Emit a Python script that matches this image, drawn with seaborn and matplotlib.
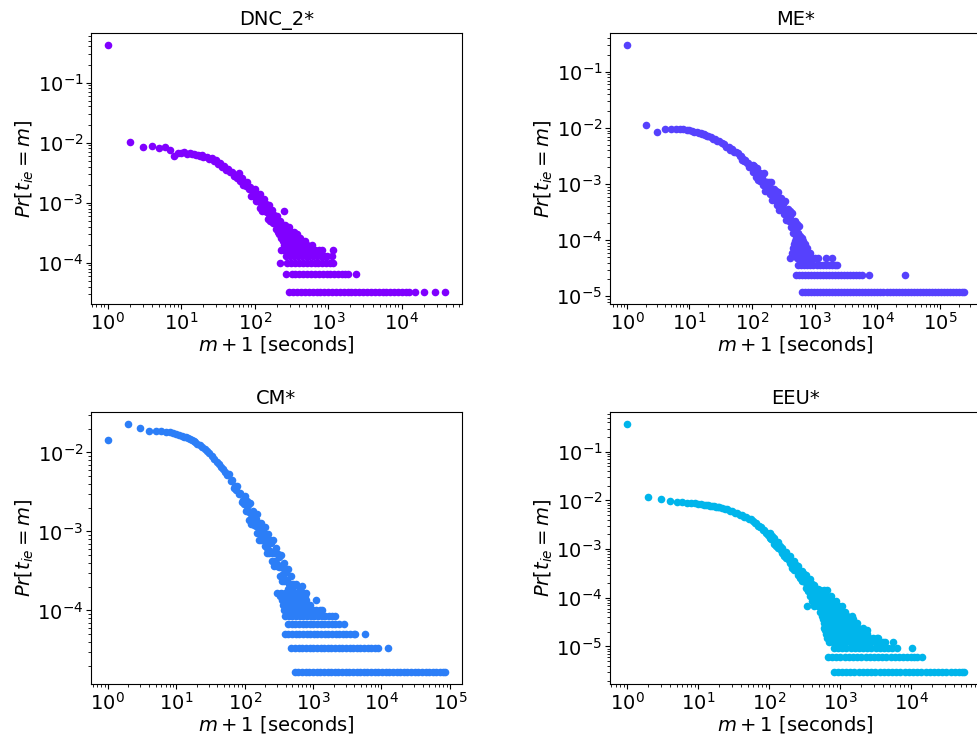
import matplotlib
matplotlib.use("Agg")
import matplotlib.pyplot as plt
import numpy as np
import pandas as pd
import seaborn as sns

# values: m+1 in seconds and counts per bin, Pr = count / total

# shared x positions (m+1, seconds)
low_x = [1, 2, 3, 4, 5, 6, 7, 8, 9, 10, 11, 12, 13, 14, 15, 16, 17, 18, 19, 20,
         22, 24, 26, 28, 30, 33, 36, 39, 42, 45, 48, 52, 56]
knee_x = [60, 63, 66, 69, 72, 75, 78, 82, 86, 90, 94, 98, 102, 107, 112, 117, 122, 127,
          133, 139, 145, 151, 158, 165, 172, 180, 188, 196, 205, 214, 223, 233, 243, 254,
          265, 277, 289, 302, 315, 329, 343, 358, 374, 390, 407, 425, 444, 463, 483, 504,
          526, 549, 573, 598]
knee2_x = [104, 109, 114, 119, 124, 130, 136, 142, 148, 154, 161, 168, 176, 184, 192, 200,
           209, 218, 228, 238, 248, 259, 271, 283, 295, 308, 322, 336, 350, 366, 382, 398,
           416, 434, 453, 473, 493, 515, 537, 561, 585]

# DNC_2*
dnc_total = 30400
dnc_low_x = [1, 2, 3, 4, 5, 6, 7, 8, 9, 10, 11, 12, 13, 14, 15, 16, 17, 18, 19, 20,
             22, 24, 26, 28, 30, 32, 34, 36, 38, 40, 43, 46, 49, 52, 55, 58]
dnc_low_n = [12770, 310, 257, 271, 252, 258, 225, 179, 207, 204, 210, 198, 206, 193, 200,
             186, 192, 180, 186, 174, 178, 162, 166, 150, 154, 136, 138, 120, 124, 108,
             112, 98, 100, 86, 88, 77]
dnc_knee_n = [94, 71, 78, 59, 65, 57, 68, 51, 55, 40, 45, 39, 52, 33, 40, 25, 30, 24,
              35, 22, 27, 16, 20, 16, 23, 15, 17, 11, 13, 10, 15, 10, 12, 8, 10, 8,
              12, 8, 9, 6, 8, 6, 9, 6]
dnc_knee2_n = [33, 43, 32, 42, 22, 30, 22, 29, 21, 28, 15, 20, 14, 19, 14, 18, 10, 13,
               10, 13, 10, 13, 7, 10, 7, 10, 8, 10, 6, 8, 6, 8]
dnc_odd_x = [249]
dnc_odd_n = [22]
dnc_c1 = [294, 332, 375, 424, 479, 541, 611, 690, 779, 880, 994, 1123, 1268, 1432, 1617, 1826,
          2062, 2329, 2630, 2970, 3354, 3788, 4278, 4831, 5456, 6162, 6959, 7859, 8876, 10024,
          11320, 12700, 15300, 19700, 28600, 38700]
dnc_c2 = [265, 316, 357, 403, 455, 514, 580, 655, 740, 836, 944, 1066, 1204, 1360, 1536, 1700,
          1850, 2360]
dnc_c3 = [220, 277, 313, 354, 400, 451, 509, 575, 649, 733, 828, 935, 1055, 1160]
dnc_c4 = [265, 300, 340, 384, 433, 489, 552, 623, 703, 794, 880, 944, 1120]
dnc_c5 = [230, 253, 286, 322, 365, 412, 465, 525, 592, 668, 745, 810, 1140]
dnc_c6 = [250, 283, 318, 362, 408, 458, 517, 600]
dnc_c7 = [238, 268, 302, 340, 384, 432, 488]
dnc_c8 = [226, 256, 290, 328, 370, 415]
dnc_c9 = [212, 240, 272, 306, 345]

# ME*
me_total = 83000
me_low_n = [24900, 930, 697, 805, 812, 808, 800, 795, 780, 750, 730, 712, 695, 680, 665, 650,
            637, 622, 606, 592, 565, 530, 522, 490, 490, 440, 428, 385, 382, 343, 345, 305,
            306]
me_knee_n = [302, 261, 264, 225, 233, 214, 227, 195, 197, 169, 173, 159, 185, 140, 152, 113,
             126, 109, 131, 98, 107, 80, 89, 77, 92, 69, 76, 56, 62, 52, 69, 47, 54, 35, 42,
             35, 46, 31, 36, 24, 28, 23, 30, 20, 22, 14, 17, 14, 18, 12, 14, 9, 10, 8]
me_knee2_n = [135, 172, 132, 164, 97, 123, 94, 120, 93, 130, 62, 91, 62, 92, 63, 91, 43, 63,
              43, 63, 43, 61, 29, 42, 29, 42, 29, 41, 19, 27, 18, 27, 18, 25, 11, 17, 11, 16,
              11, 15, 7]
me_c1 = [618, 691, 772, 863, 965, 1079, 1206, 1348, 1507, 1685, 1884, 2106, 2355, 2633, 2943,
         3291, 3679, 4113, 4599, 5142, 5749, 6427, 7186, 8034, 8982, 10042, 11227, 12552,
         14033, 15690, 17541, 19611, 21926, 24514, 27407, 30642, 34258, 38301, 42821, 47875,
         53525, 59842, 66904, 74800, 83628, 93497, 104531, 116867, 130659, 146079, 163318,
         182592, 204141, 228232, 244000]
me_c2 = [496, 555, 620, 693, 775, 867, 969, 1084, 1212, 1355, 1515, 1694, 1894, 2117, 2367,
         2647, 2960, 3309, 3700, 4137, 4626, 5172, 5690, 7350, 28100]
me_c3 = [547, 612, 684, 765, 855, 956, 1069, 1195, 1336, 1494, 1670, 1867, 2087, 2280]
me_c4 = [404, 518, 583, 653, 729, 815, 908, 1014, 1140, 1540, 1900]
me_c5 = [430, 476, 534, 598, 668, 748, 835]
me_c6 = [446, 496, 552, 618, 692, 765]
me_c7 = [462, 515, 578, 646, 705]
me_c8 = [478, 532, 596, 655]
me_c9 = [512, 566, 630]

# CM*
cm_total = 59500
cm_low_n = [863, 1350, 1200, 1110, 1110, 1100, 1088, 1070, 1045, 1015, 987, 965, 945, 920,
            898, 877, 855, 826, 798, 770, 735, 690, 655, 615, 585, 530, 495, 448, 422, 385,
            368, 332, 312]
cm_knee_n = [321, 257, 268, 212, 225, 198, 223, 176, 181, 142, 149, 131, 165, 111, 127, 84,
             99, 83, 109, 74, 85, 57, 67, 56, 75, 50, 58, 39, 46, 37, 55, 34, 42, 25, 32, 25,
             37, 23, 28, 16, 21, 17, 24, 15, 18, 11, 13, 11, 16, 10, 12, 7, 9, 7]
cm_knee2_n = [108, 143, 105, 136, 73, 98, 71, 95, 70, 98, 46, 68, 46, 68, 47, 67, 32, 47,
              32, 47, 32, 46, 22, 32, 22, 31, 21, 30, 14, 21, 14, 20, 14, 20, 9, 13, 9, 13,
              9, 13, 6]
cm_odd_x = [640, 680, 720]
cm_odd_n = [11, 12, 10]
cm_c1 = [540, 610, 690, 780, 882, 997, 1127, 1273, 1439, 1626, 1837, 2076, 2346, 2651, 2996,
         3385, 3825, 4323, 4885, 5520, 6237, 7048, 7965, 9000, 10170, 11492, 12986, 14675,
         16582, 18738, 21174, 23927, 27037, 30552, 34524, 39012, 44084, 49815, 56291, 63608,
         71877, 78000, 85000]
cm_c2 = [483, 546, 617, 697, 788, 890, 1006, 1137, 1285, 1452, 1640, 1854, 2095, 2367, 2675,
         3022, 3415, 3859, 4361, 4928, 5568, 6292, 7110, 8000, 8800, 12500]
cm_c3 = [386, 436, 493, 557, 629, 711, 803, 908, 1026, 1159, 1310, 1480, 1672, 1890, 2135,
         2413, 2727, 3081, 3482, 3935, 4170, 5830]
cm_c4 = [431, 487, 550, 622, 703, 794, 897, 1014, 1146, 1295, 1463, 1653, 1868, 2111, 2385,
         2790]
cm_c5 = [392, 443, 500, 565, 638, 721, 815, 921, 1041, 1176, 1329, 1502, 1697, 1917, 2060]
cm_c6 = [370, 418, 472, 534, 603, 682, 770, 871, 984, 1112, 1257, 1370]
cm_c7 = [360, 406, 459, 519, 586, 662, 748, 845, 900]
cm_c8 = [350, 395, 447, 505, 570, 645, 728, 800, 1090]
cm_c9 = [330, 372, 420, 475, 537, 607, 686, 775]
cm_c10 = [300, 340, 384, 434, 490, 554, 626, 707, 790]

# EEU*
eeu_total = 328000
eeu_low_n = [120000, 3870, 3510, 3150, 3080, 3020, 2960, 2920, 2880, 2790, 2740, 2700, 2660,
             2620, 2580, 2540, 2500, 2460, 2420, 2380, 2330, 2190, 2170, 2030, 2030, 1850,
             1840, 1670, 1670, 1510, 1520, 1350, 1340]
eeu_knee_n = [1267, 1132, 1125, 998, 990, 923, 942, 828, 813, 707, 705, 650, 711, 538, 562,
              424, 453, 392, 449, 340, 357, 270, 286, 246, 282, 214, 224, 169, 177, 145, 189,
              126, 142, 95, 110, 90, 118, 76, 96, 52, 68, 51, 80, 46, 57, 32, 41, 32, 49, 28,
              36, 20, 26, 20]
eeu_knee2_n = [550, 606, 494, 544, 384, 426, 346, 377, 311, 345, 241, 266, 217, 240, 194, 234,
               135, 168, 125, 154, 117, 145, 82, 102, 71, 103, 70, 97, 45, 65, 44, 64, 43, 61,
               28, 41, 28, 39, 27, 38, 18]
eeu_c1 = [812, 930, 1065, 1220, 1397, 1600, 1832, 2098, 2403, 2752, 3151, 3609, 4133, 4733,
          5420, 6207, 7108, 8140, 9322, 10676, 12226, 14001, 16034, 18362, 21028, 24081,
          27577, 31581, 36166, 41417, 47430, 52000, 56000]
eeu_c2 = [676, 774, 886, 1015, 1162, 1331, 1524, 1745, 1998, 2288, 2620, 3000, 3435, 3934,
          4504, 5158, 5906, 6763, 7744, 8867, 10153, 11000, 12000, 14400]
eeu_c3 = [820, 940, 1076, 1232, 1411, 1616, 1850, 2119, 2426, 2778, 3180, 3642, 4170, 4775,
          5468, 6300, 10200]
eeu_c4 = [692, 792, 907, 1039, 1189, 1362, 1559, 1785, 2044, 2341, 2680, 3069, 3514, 4024,
          4315, 5650]
eeu_c5 = [655, 750, 859, 983, 1126, 1289, 1476, 1690, 1935, 2216, 2537, 2905, 3326, 3476]
eeu_c6 = [630, 721, 826, 946, 1083, 1240, 1420, 1626, 1862, 2132, 2383]
eeu_c7 = [610, 698, 800, 916, 1049, 1201, 1375, 1574, 1802, 2063, 2400]
eeu_c8 = [600, 687, 787, 901, 1032, 1181, 1352, 1548, 1773, 2100]
eeu_c10 = [590, 675, 773, 885, 1013, 1160, 1328, 1520, 1725]
eeu_c12 = [575, 658, 754, 863, 988, 1131, 1300, 1550]
eeu_c14 = [557, 638, 730, 836, 957, 1096, 1250, 1466]
eeu_c17 = [520, 595, 682, 780, 893, 1022, 1180]
eeu_c22 = [343, 426, 488, 558, 639, 732, 838, 960, 1062]
eeu_c28 = [400, 460, 527, 603, 690, 790, 880]
eeu_c36 = [380, 435, 498, 570, 652, 746]
eeu_c48 = [352, 393, 450, 515, 590, 655]


def build(head_x, head_n, rows, total):
    xs = list(head_x)
    ns = list(head_n)
    for k, row in rows:
        xs += row
        ns += [k] * len(row)
    return pd.DataFrame({"m1": xs, "pr": np.array(ns) / total})


dnc = build(dnc_low_x + knee_x[:44] + knee2_x[:32] + dnc_odd_x,
            dnc_low_n + dnc_knee_n + dnc_knee2_n + dnc_odd_n,
            [(1, dnc_c1), (2, dnc_c2), (3, dnc_c3), (4, dnc_c4), (5, dnc_c5),
             (6, dnc_c6), (7, dnc_c7), (8, dnc_c8), (9, dnc_c9)], dnc_total)
me = build(low_x + knee_x + knee2_x, me_low_n + me_knee_n + me_knee2_n,
           [(1, me_c1), (2, me_c2), (3, me_c3), (4, me_c4), (5, me_c5),
            (6, me_c6), (7, me_c7), (8, me_c8), (9, me_c9)], me_total)
cm = build(low_x + knee_x + knee2_x + cm_odd_x, cm_low_n + cm_knee_n + cm_knee2_n + cm_odd_n,
           [(1, cm_c1), (2, cm_c2), (3, cm_c3), (4, cm_c4), (5, cm_c5), (6, cm_c6),
            (7, cm_c7), (8, cm_c8), (9, cm_c9), (10, cm_c10)], cm_total)
eeu = build(low_x + knee_x + knee2_x, eeu_low_n + eeu_knee_n + eeu_knee2_n,
            [(1, eeu_c1), (2, eeu_c2), (3, eeu_c3), (4, eeu_c4), (5, eeu_c5),
             (6, eeu_c6), (7, eeu_c7), (8, eeu_c8), (10, eeu_c10), (12, eeu_c12),
             (14, eeu_c14), (17, eeu_c17), (22, eeu_c22), (28, eeu_c28),
             (36, eeu_c36), (48, eeu_c48)], eeu_total)

panels = [("DNC_2*", dnc), ("ME*", me), ("CM*", cm), ("EEU*", eeu)]

# axes boxes in figure fractions (left, bottom, width, height); right column runs off the edge
boxes = [
    (0.0931, 0.588, 0.3797, 0.3675),
    (0.6244, 0.588, 0.3797, 0.3675),
    (0.0931, 0.0732, 0.3797, 0.3686),
    (0.6244, 0.0732, 0.3797, 0.3686),
]

fig = plt.figure(figsize=(9.77, 7.38), dpi=100)
for i, (name, df) in enumerate(panels):
    ax = fig.add_axes(boxes[i])
    sns.scatterplot(data=df, x="m1", y="pr", color=plt.cm.rainbow(i / 12), s=30,
                    linewidth=0, ax=ax)
    ax.set_xscale("log")
    ax.set_yscale("log")
    ax.tick_params(labelsize=14, pad=2)
    ax.set_title(name, fontsize=14)
    ax.set_xlabel("$m + 1$ [seconds]", fontsize=14, labelpad=0)
    ax.set_ylabel("$Pr[t_{ie} = m]$", fontsize=14, labelpad=1)

fig.savefig("out.png", dpi=100)
